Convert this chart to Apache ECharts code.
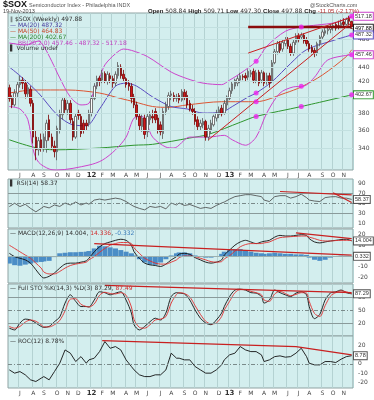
<!DOCTYPE html>
<html><head><meta charset="utf-8">
<script src="https://cdn.jsdelivr.net/npm/echarts@6/dist/echarts.min.js"></script>
<style>html,body{margin:0;padding:0;background:#fff}#c{width:374px;height:400px}</style>
</head><body><div id="c"></div>
<script>
// ---------- DATA ----------
const startWeek = '2011-06-03';
const weekCount = 130;
const labelIdx  = [4,9,13,18,22,26,31,35,39,44,48,52,57,61,66,70,74,79,83,87,91,96,100,105,109,113,118,122,126];
const labelText = ['J','A','S','O','N','D','12','F','M','A','M','J','J','A','S','O','N','D','13','F','M','A','M','J','J','A','S','O','N'];

const openP  = [412,398,390,405,416,422,418,404,410,392,352,338,349,340,348,372,352,342,336,360,378,396,384,392,370,352,380,376,368,368,368,380,398,414,425,422,431,420,428,424,418,428,440,430,424,418,414,400,390,376,364,374,358,372,376,382,374,366,356,382,388,402,402,398,402,396,406,402,392,385,382,372,364,366,370,352,360,366,374,378,386,380,390,398,408,414,418,422,427,428,426,430,434,421,433,422,432,420,428,420,446,462,474,466,474,480,470,460,476,486,484,487,480,474,468,464,460,474,484,490,494,496,500,504,502,502,508,504,514,508.84];
const closeP = [398,390,405,416,422,418,404,412,392,352,338,348,340,352,368,352,342,336,362,380,396,384,392,372,352,376,377,356,360,365,380,398,414,424,420,432,421,430,424,418,430,442,428,424,416,414,398,390,376,365,374,355,376,378,374,372,360,358,382,390,402,404,398,400,396,407,399,390,385,382,370,364,368,370,352,362,368,376,380,384,379,392,400,408,417,422,424,428,426,425,434,432,422,432,418,432,418,428,418,446,462,474,464,476,480,470,460,476,486,480,487,478,474,466,462,460,474,484,492,494,496,500,502,498,500,506,504,512,509,497.88];
const lowP   = [394,386,388,400,412,410,398,400,388,345,327,332,336,336,335,348,338,330,327,356,372,380,378,368,348,350,372,352,356,360,364,376,396,410,414,418,418,416,418,412,414,424,424,420,412,408,392,386,372,360,358,350,352,366,368,368,356,354,350,378,384,396,394,394,392,394,396,386,382,378,366,360,360,362,348,348,356,364,370,374,376,378,384,396,404,410,414,418,422,420,422,426,418,418,414,418,414,416,412,418,444,458,460,462,470,466,456,456,472,476,480,474,470,462,458,454,456,470,480,486,488,490,494,494,496,498,500,502,503,497.30];
const highP  = [416,402,410,420,428,426,422,416,414,396,360,352,356,356,372,378,356,348,365,384,400,400,396,396,374,380,384,380,372,372,384,402,418,428,428,436,434,434,432,428,434,447,444,436,426,422,418,404,394,380,378,378,380,382,384,386,378,370,386,394,406,408,406,404,405,410,410,408,396,390,386,376,372,374,372,366,372,378,384,388,390,396,402,412,420,424,428,432,430,432,437,436,438,436,436,436,434,432,432,450,466,478,478,480,484,484,474,480,490,490,491,490,484,478,472,468,477,487,496,498,500,503,506,508,510,512,514,515,518,509.71];

const ma20Idx = [0,4,11,18,24,29,34,40,44,48,54,61,67,73,80,84,90,93,99,106,112,123,129];
const ma20Val = [440,428,405,378,366,365,385,414,418,414,400,388,385,380,381,388,400,405,420,445,465,480,487.32];
const ma50Idx = [0,9,22,34,42,47,54,60,67,80,87,93,104,110,118,127,129];
const ma50Val = [405,409,409,405,398,394,388,387,390,394,394,394,405,413,429,455,464.83];
const ma200Idx = [0,9,17,34,47,54,68,75,87,93,110,129];
const ma200Val = [349,341,338,340,343,344,351,355,369,376,388,402.67];
const bbUpIdx = [0,6,11,13,16,19,23,27,30,32,34,36,40,43,46,52,61,67,73,80,83,87,93,97,104,110,116,123,129];
const bbUpVal = [475,472,478,470,448,425,400,390,392,409,425,443,459,466,464,455,433,424,418,416,422,431,448,470,493,500,503,507,517.18];
const bbLoIdx = [0,4,7,9,11,15,18,30,35,40,44,47,50,54,59,62,68,75,81,84,89,93,97,102,107,111,115,120,129];
const bbLoVal = [388,385,372,338,325,318,317,322,327,338,352,374,376,352,341,340,352,352,354,349,343,352,380,405,413,414,426,450,457.46];
const dotIdx = [93,93,93,93,110,110,110,129,129,129,129];
const dotVal = [448,405,394,376,500,414,388,517.18,487.32,457.46,402.67];

const mainTicks = [340,360,380,400,420,440,460,480,500];
const mainTickShown = [340,360,380,420,440,480];

const oscIdx = [0,2,4,6,8,10,12,13,15,17,19,21,23,25,27,29,30,32,34,36,38,40,42,44,46,47,49,51,53,55,57,59,61,63,64,66,68,70,72,74,76,78,80,81,83,85,87,89,91,93,95,96,98,100,102,104,106,108,110,112,113,115,117,119,121,123,125,127,129];
const rsiVal = [43.7,50.6,43.7,48.5,40,33,40,44,41,47,44,51,47,53,47,51,48.5,57,59,57,59,61,59,54,47,44,40,37,44,42,44,39,51,47,51,46,48,44,40,42,40,46,51,53,59,64,66,68,68,66,64,57,54,64,66,66,61,64,69,62,57,55,54,62,63.5,64,61,61,58.37];
const macdVal = [2.5,-0.6,-2.1,-3.6,-6.6,-12.7,-18.8,-20.3,-18.8,-15.7,-11.2,-7.5,-6.6,-6.6,-5.7,-4.5,-2.1,3.9,8.5,11.5,13,14.5,15.5,14.5,10,3.9,-2.1,-6.6,-8.2,-8.8,-9.7,-7.5,-3.6,-0.6,1.8,2.5,1.5,-1.5,-3.6,-5.7,-6.6,-5.7,-3.6,0.9,5.5,10,13,14.5,13,11.5,13,13.6,14.5,17.5,19.1,18.5,18.5,19.1,19.7,19.1,16.1,13,12.1,13,13.9,14.5,15.2,15.5,14.004];
const signalVal = [10,7,3.9,0.9,-2.1,-6.6,-11.2,-14.8,-16.6,-16.6,-14.3,-11.2,-8.8,-7.5,-6.6,-5.7,-3.6,-0.6,3.4,7,10,11.5,12.5,12.5,11.5,7.5,2.5,-2.1,-4.5,-6.6,-7.5,-7.5,-5.7,-3.6,-1.5,0,0,-0.6,-2.1,-3.6,-5.2,-5.7,-5.2,-2.7,0.3,4.5,8.5,10.6,11.5,11.5,11.5,12.1,13,15.2,17,17.5,17.9,18.2,18.5,18.5,17.5,16.1,14.5,13.9,13.9,14.3,14.5,14.5,14.336];
const histVal = [-7,-8.5,-9,-8,-7,-6,-5.5,-5,-4.5,-1,2.5,3,3.5,3.5,3.8,4,4.6,7,9.4,9,8,7,5.5,4,2.5,0.5,-3,-6,-8,-8.2,-6,-3,0.5,2.5,3.3,3.3,2.5,0.5,-1,-1.5,-1.5,-0.5,2,4,5.5,6.4,6.4,5.5,4,3,2.5,2,2.5,3,2.5,2,2,1.5,1.5,1,-1.5,-3.5,-4.5,-3.5,-1.5,-0.5,0.3,0.2,-0.332];
const stoK = [8,4,20,29,27,20,12,10,12,23,34,66,85,70,58,58,57,73,92,90,85,89,92,73,43,16,4,12,23,31,27,43,81,90,89,87,73,50,31,20,16,27,43,58,81,96,98,96,90,89,81,66,73,96,90,85,81,89,92,85,58,30,40,73,89,92,96,90,87.29];
const stoD = [12,8,12,22,27,24,16,11,11,16,26,48,75,76,63,58,57,64,84,91,88,87,90,84,57,28,10,8,16,27,29,35,66,86,90,88,80,60,40,24,18,20,35,50,70,90,97,97,93,90,85,73,70,87,93,88,83,86,90,89,70,42,35,60,82,90,94,92,87.49];
const rocVal = [-6.5,-10,-8.3,-11.8,-17.2,-19,-15.4,-13.7,-17.2,-8.3,0.7,15,11.5,2.5,7.8,0.7,4.3,6.1,13.2,24,16.8,18.6,15,4.3,-2.9,-6.5,-11.8,-13.7,-13.7,-11.8,-11.8,-6.5,11.5,6.1,6.1,4.3,4.3,-2.9,-6.5,-10,-10,-6.5,-1.1,4.3,9.7,11.5,18.6,15,13.2,13.2,9.7,2.5,4.3,7.8,8.6,7.2,7.8,11.5,16.8,7.8,0.7,-1.1,-1.1,2.5,2.5,1.4,5,7.8,8.78];

// hand-drawn annotation lines (week index, value)
const resistLine = [[90,500],[129,500]];
const trendLow   = [[75,349],[129,507]];
const wedgeTop   = [[90,460],[129,516]];
const rsiTrendA  = [[102,74.5],[129,67.5]];
const rsiTrendB  = [[122,72],[129,52]];
const macdTrendA = [[32,11.5],[129,0.9]];
const macdTrendB = [[108,21.5],[129,16]];
const stoTrend   = [[36,107],[129,90]];
const rocTrend   = [[35,25],[108,18.6],[129,9.7]];

// ---------- BUILD ----------
const weeks = [];
{ const d0 = new Date(startWeek + 'T00:00:00Z');
  for (let k = 0; k < weekCount; k++) { const d = new Date(d0.getTime() + k*7*86400000); weeks.push(d.toISOString().slice(0,10)); } }
const pairs = (ix, v) => ix.map((x, k) => [x, v[k]]);
const candles = openP.map((o, i) => [o, closeP[i], lowP[i], highP[i]]);

const FONT = 'DejaVu Sans';
const BG = '#d3eeee';
const VGRID = '#b4d2d2';
const isLab = (i) => labelIdx.indexOf(i) >= 0;

const gridDefs = [[13,157],[179,49],[229,54],[284,52],[336,52]];
const grid = gridDefs.map(([t,h]) => ({left: 8, right: 21, top: t, height: h, show: true, backgroundColor: BG, borderColor: '#8fa3a3', borderWidth: 1}));

const xAxis = gridDefs.map((g, k) => ({
  type: 'category', gridIndex: k, data: weeks, boundaryGap: true,
  axisLine: {show: false}, axisTick: {show: false},
  axisLabel: {show: k === 0 || k === 4, interval: (i) => isLab(i), margin: 2,
    fontSize: 6, color: '#444', fontFamily: FONT,
    formatter: (v, i) => { const j = labelIdx.indexOf(i); if (j < 0) return ''; const t = labelText[j]; return /\d/.test(t) ? '{y|' + t + '}' : t; },
    rich: {y: {fontWeight: 'bold', fontSize: 7, color: '#333', fontFamily: FONT}}},
  splitLine: {show: true, interval: (i) => isLab(i), lineStyle: {color: VGRID, width: 1}}
}));

const yLab = (show) => ({fontSize: 6, color: '#444', fontFamily: FONT, margin: 5, formatter: (v) => show.indexOf(v) >= 0 ? String(v) : ''});
const noLine = {axisLine: {show: false}, axisTick: {show: false}, splitLine: {show: false}};
const yAxis = [
  Object.assign({type: 'log', logBase: 10, gridIndex: 0, min: 317, max: 522.6, position: 'right', axisLabel: {show: false}}, noLine),
  Object.assign({type: 'value', gridIndex: 1, min: 0, max: 100, interval: 10, position: 'right', axisLabel: yLab([10,30,50,70,90])}, noLine),
  Object.assign({type: 'value', gridIndex: 2, min: -25, max: 25, interval: 5, position: 'right', axisLabel: yLab([20,10,-10,-20])}, noLine),
  Object.assign({type: 'value', gridIndex: 3, min: -10, max: 110, interval: 10, position: 'right', axisLabel: yLab([20,50,80])}, noLine),
  Object.assign({type: 'value', gridIndex: 4, min: -26, max: 30, interval: 2, position: 'right', axisLabel: yLab([20,0,-10,-20])}, noLine)
];

function tag(v, text, border, color) {
  return {yAxis: v, name: text, lineStyle: {color: 'rgba(0,0,0,0)', width: 0},
    label: {show: true, position: 'end', formatter: '{b}', distance: 1, fontSize: 5.5, fontFamily: 'Liberation Sans', opacity: 1,
      color: color || '#333', backgroundColor: '#ffffff', borderColor: border, borderWidth: 1, padding: [1,1,0,1]}};
}
function refLine(v, color, type) { return {yAxis: v, lineStyle: {color: color, width: 1, type: type}, label: {show: false}}; }
function lineS(name, xi, data, color, width, extra) {
  return Object.assign({type: 'line', name, xAxisIndex: xi, yAxisIndex: xi, data, symbol: 'none', showSymbol: false,
    lineStyle: {color, width}, itemStyle: {color}, silent: true, animation: false}, extra || {});
}
const ML = (data) => ({silent: true, symbol: 'none', animation: false, data});

const series = [
  {type: 'candlestick', xAxisIndex: 0, yAxisIndex: 0, data: candles, barWidth: 2, animation: false, silent: true, z: 3,
   itemStyle: {color: '#ffffff', color0: '#d01818', borderColor: '#555', borderColor0: '#7a0000', borderWidth: 0.8},
   markLine: ML(mainTicks.map(v => ({yAxis: v, name: String(v), lineStyle: {color: '#c2e0e0', width: 1, type: 'solid'},
     label: {show: mainTickShown.indexOf(v) >= 0, position: 'end', formatter: '{b}', distance: 5, fontSize: 6, color: '#444', fontFamily: FONT}})))},
  lineS('MA200', 0, pairs(ma200Idx, ma200Val), '#2e962e', 1, {smooth: 0.3, z: 2}),
  lineS('MA50', 0, pairs(ma50Idx, ma50Val), '#dd5533', 1, {smooth: 0.3, z: 2}),
  lineS('MA20', 0, pairs(ma20Idx, ma20Val), '#5a4cc0', 1, {smooth: 0.3, z: 2}),
  lineS('BBU', 0, pairs(bbUpIdx, bbUpVal), '#cc44cc', 1, {smooth: 0.3, z: 2}),
  lineS('BBL', 0, pairs(bbLoIdx, bbLoVal), '#cc44cc', 1, {smooth: 0.3, z: 2}),
  lineS('resist', 0, resistLine, '#8a0c0c', 2.5, {z: 6}),
  lineS('trendLow', 0, trendLow, '#c82020', 1, {z: 6}),
  lineS('wedgeTop', 0, wedgeTop, '#c82020', 1, {z: 6}),
  {type: 'scatter', xAxisIndex: 0, yAxisIndex: 0, data: pairs(dotIdx, dotVal), symbolSize: 5, itemStyle: {color: '#ee22ee'}, z: 7, silent: true, animation: false},
  lineS('tagsMain', 0, [], '#000', 0, {z: 8, markLine: ML([tag(bbUpVal[bbUpVal.length-1], '517.18', '#cc44cc'), tag(closeP[closeP.length-1], '497.88', '#222', '#000'),
     tag(ma20Val[ma20Val.length-1], '487.32', '#5a4cc0'), tag(bbLoVal[bbLoVal.length-1], '457.46', '#cc44cc'),
     tag(ma200Val[ma200Val.length-1], '402.67', '#2e962e')])}),
  // RSI
  lineS('RSI', 1, pairs(oscIdx, rsiVal), '#444', 0.8, {markLine: ML([refLine(70,'#8a9a9a','solid'), refLine(30,'#8a9a9a','solid'), refLine(50,'#7a8a8a',[4,2,1,2])])}),
  lineS('rsiA', 1, rsiTrendA, '#c82020', 1.2, {z: 6}),
  lineS('rsiB', 1, rsiTrendB, '#c82020', 1.2, {z: 6}),
  lineS('tagsRsi', 1, [], '#000', 0, {z: 8, markLine: ML([tag(rsiVal[rsiVal.length-1], '58.37', '#555')])}),
  // MACD
  {type: 'bar', xAxisIndex: 2, yAxisIndex: 2, data: pairs(oscIdx, histVal), barWidth: 5, barGap: '-100%', itemStyle: {color: '#4b8dc6'}, silent: true, animation: false,
   markLine: ML([refLine(0,'#9ab0b0','solid')])},
  lineS('MACD', 2, pairs(oscIdx, macdVal), '#111', 0.9, {smooth: 0.3}),
  lineS('Signal', 2, pairs(oscIdx, signalVal), '#e03030', 0.9, {smooth: 0.3}),
  lineS('macdA', 2, macdTrendA, '#c82020', 1.2, {z: 6}),
  lineS('macdB', 2, macdTrendB, '#c82020', 1.2, {z: 6}),
  lineS('tagsMacd', 2, [], '#000', 0, {z: 8, markLine: ML([tag(macdVal[macdVal.length-1], '14.004', '#555'), tag(histVal[histVal.length-1], '0.332', '#555')])}),
  // STO
  lineS('K', 3, pairs(oscIdx, stoK), '#111', 0.9, {smooth: 0.3, markLine: ML([refLine(80,'#8a9a9a','solid'), refLine(20,'#8a9a9a','solid'), refLine(50,'#7a8a8a',[4,2,1,2])])}),
  lineS('D', 3, pairs(oscIdx, stoD), '#e03030', 0.9, {smooth: 0.3}),
  lineS('stoA', 3, stoTrend, '#c82020', 1.2, {z: 6}),
  lineS('tagsSto', 3, [], '#000', 0, {z: 8, markLine: ML([tag(stoK[stoK.length-1], '87.29', '#555')])}),
  // ROC
  lineS('ROC', 4, pairs(oscIdx, rocVal), '#111', 0.9, {markLine: ML([refLine(0,'#7a8a8a',[4,2,1,2])])}),
  lineS('rocA', 4, rocTrend, '#c82020', 1.2, {z: 6}),
  lineS('tagsRoc', 4, [], '#000', 0, {z: 8, markLine: ML([tag(rocVal[rocVal.length-1], '8.78', '#555')])})
];

const T = (x, y, text, fill, size, weight, fam) => ({type: 'text', x, y, z: 100, silent: true,
  style: {text, fill, font: (weight || 'normal') + ' ' + (size || 6) + 'px "' + (fam || FONT) + '"', verticalAlign: 'middle'}});
const R = (x, y, text, rich, size) => ({type: 'text', x, y, z: 100, silent: true,
  style: {text, rich, fill: '#333', font: (size || 6) + 'px "' + FONT + '"', verticalAlign: 'middle'}});
const graphic = [
  T(3, 5, '$SOX', '#111', 9, 'bold', 'Liberation Sans'),
  T(29, 5, 'Semiconductor Index - Philadelphia INDX', '#555', 5.5, 'normal', 'Liberation Sans'),
  T(310, 5, '@StockCharts.com', '#555', 5.5, 'normal', 'Liberation Sans'),
  T(3, 11.5, '19-Nov-2013', '#444', 5.5, 'normal', 'Liberation Sans'),
  R(148, 11.5, '{b|Open} 508.84 {b|High} 509.71 {b|Low} 497.30 {b|Close} 497.88 {b|Chg} {r|-11.05 (-2.17%)}',
    {b: {fontWeight: 'bold', fontFamily: 'Liberation Sans', fontSize: 6, fill: '#222'}, r: {fill: '#b03030', fontFamily: 'Liberation Sans', fontSize: 6}}, 6),
  T(10, 19, '\u2225 $SOX (Weekly) 497.88', '#333', 6),
  T(10, 25, '\u2014 MA(20) 487.32', '#4a40a0', 6),
  T(10, 31, '\u2014 MA(50) 464.83', '#c84a2c', 6),
  T(10, 37, '\u2014 MA(200) 402.67', '#2e862e', 6),
  T(10, 43, '\u2014 BB(20,2.0) 457.46 - 487.32 - 517.18', '#c040c0', 6),
  T(10, 48.5, '\u258c Volume undef', '#333', 6),
  T(10, 183, '\u258c RSI(14) 58.37', '#333', 6),
  R(10, 233, '\u2014 MACD(12,26,9) 14.004, {r|14.336}, {bl|-0.332}', {r: {fill: '#d03030'}, bl: {fill: '#3b7dbb'}}, 6),
  R(10, 288, '\u2014 Full STO %K(14,3) %D(3) 87.29, {r|87.49}', {r: {fill: '#d03030'}}, 6),
  T(10, 341, '\u2014 ROC(12) 8.78%', '#333', 6)
];

const chart = echarts.init(document.getElementById('c'), null, {renderer: 'canvas'});
chart.setOption({animation: false, backgroundColor: '#ffffff', grid, xAxis, yAxis, series, graphic,
  textStyle: {fontFamily: FONT}});
</script></body></html>
